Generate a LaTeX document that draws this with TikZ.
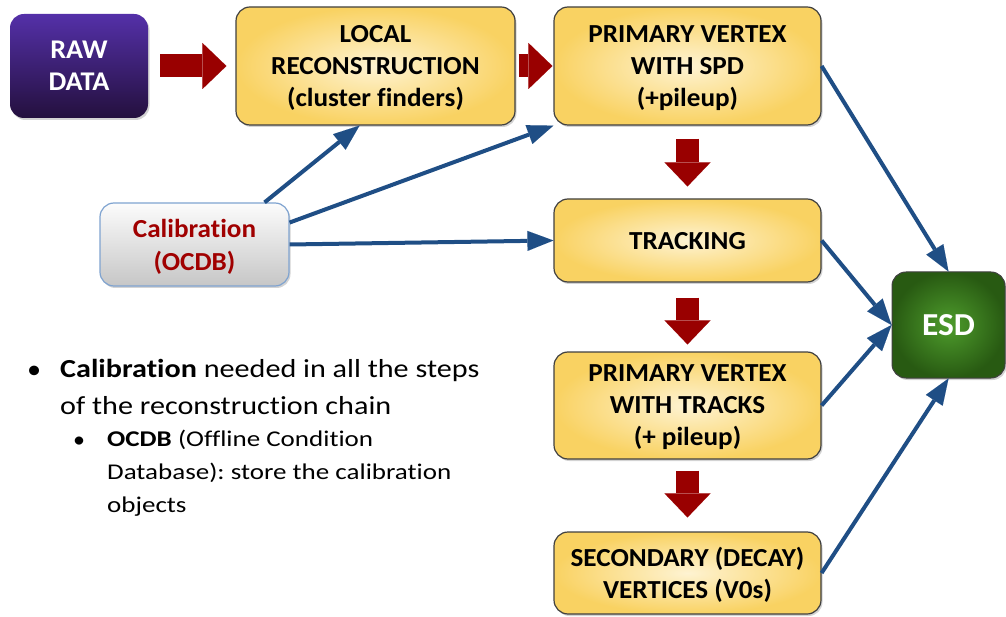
\documentclass[tikz,border=0pt]{standalone}
\usepackage{fontspec}
\setmainfont{Carlito}[FakeStretch=1.045, Ligatures=NoCommon]
\newfontfamily\notefont{Carlito}[FakeStretch=1.16, Ligatures=NoCommon]
\newfontfamily\subnotefont{Carlito}[FakeStretch=1.2, Ligatures=NoCommon]
\frenchspacing
\usetikzlibrary{arrows.meta,shadows}
\definecolor{stepin}{HTML}{FEF3D2}
\definecolor{stepout}{HTML}{F9D262}
\definecolor{stepedge}{HTML}{404040}
\definecolor{rawtop}{HTML}{5430A8}
\definecolor{rawbot}{HTML}{24103E}
\definecolor{calibtop}{HTML}{FCFCFC}
\definecolor{calibbot}{HTML}{C6C6C6}
\definecolor{calibedge}{HTML}{7FA3D0}
\definecolor{calibtext}{HTML}{A00000}
\definecolor{esdin}{HTML}{4E9C2C}
\definecolor{esdout}{HTML}{285A12}
\definecolor{flowred}{HTML}{990000}
\definecolor{feedblue}{HTML}{1F4E85}
\tikzset{
  box/.style={rounded corners=14pt, align=center, inner sep=0pt,
    font=\fontsize{26}{32}\selectfont\bfseries,
    drop shadow={opacity=0.35, shadow xshift=1.5pt, shadow yshift=-2pt}},
  stage/.style={box, draw=stepedge, line width=1.2pt, inner color=stepin,
    outer color=stepout, minimum width=267pt, text depth=0pt},
  flow/.style={line width=23pt, flowred,
    -{Triangle[length=24pt, width=46pt, line width=0.01pt]}},
  feed/.style={line width=4pt, feedblue,
    -{Triangle[length=26pt, width=20pt, line width=0.01pt]}},
}
\begin{document}
\begin{tikzpicture}[x=1pt, y=-1pt]
  \useasboundingbox (0,0) rectangle (1006,617);
  \node[box, top color=rawtop, bottom color=rawbot, text=white, text depth=0pt,
    font=\fontsize{27}{32}\selectfont\bfseries,
    minimum width=138pt, minimum height=104pt] (raw) at (79,66) {RAW\\DATA};
  \node[stage, minimum width=279pt, minimum height=118pt] (local) at (375.5,66)
    {LOCAL\\RECONSTRUCTION\\(cluster finders)};
  \node[stage, minimum height=118pt] (spd) at (687.5,66)
    {PRIMARY VERTEX\\WITH SPD\\(+pileup)};
  \node[stage, minimum height=83pt] (trk) at (687.5,240.5) {TRACKING};
  \node[stage, minimum height=107pt] (pvt) at (687.5,405.5)
    {PRIMARY VERTEX\\WITH TRACKS\\(+ pileup)};
  \node[stage, minimum height=82pt] (sec) at (687.5,573)
    {SECONDARY (DECAY)\\VERTICES (V0s)};
  \node[box, draw=calibedge, line width=1.2pt, top color=calibtop,
    bottom color=calibbot, text=calibtext, text depth=0pt,
    font=\fontsize{26}{33}\selectfont\bfseries,
    minimum width=189pt, minimum height=83pt] (calib) at (194.5,244.5)
    {Calibration\\(OCDB)};
  \node[box, draw=stepedge, line width=1pt, inner color=esdin, outer color=esdout,
    text=white, font=\fontsize{32}{36}\selectfont\bfseries,
    minimum width=113pt, minimum height=106pt] (esd) at (948.5,325) {ESD};

  \draw[flow, shorten <=12pt, shorten >=9pt] (raw) -- (local);
  \draw[flow, shorten <=3pt, shorten >=1pt] (local) -- (spd);
  \draw[flow, shorten <=13pt, shorten >=12pt] (spd) -- (trk);
  \draw[flow, shorten <=15pt, shorten >=7pt] (trk) -- (pvt);
  \draw[flow, shorten <=11pt, shorten >=14pt] (pvt) -- (sec);

  \begin{scope}[feed]
    \draw (calib.31) to (local.255);
    \draw (calib.13) to (spd.south west);
    \draw (calib.east) to (trk.west);
    \draw (spd.east) to (esd.north);
    \draw (trk.east) to (esd.west);
    \draw (pvt.east) to (esd.west);
    \draw (sec.east) to (esd.south);
  \end{scope}

  \node[anchor=base west, inner sep=0pt, font=\fontsize{27}{36}\selectfont]
    (dot1) at (27,378) {\textbullet};
  \node[anchor=north west, inner sep=0pt, align=left,
    font=\notefont\fontsize{26}{37}\selectfont] (note1) at (60,359)
    {\textbf{Calibration} needed in all the steps\\of the reconstruction chain};
  \node[anchor=base west, inner sep=0pt, font=\fontsize{23}{33}\selectfont]
    (dot2) at (73,447) {\textbullet};
  \node[anchor=north west, inner sep=0pt, align=left,
    font=\subnotefont\fontsize{22.5}{33}\selectfont] (note2) at (107,430)
    {\textbf{OCDB} (Offline Condition\\Database): store the calibration\\objects};
\end{tikzpicture}
\end{document}
